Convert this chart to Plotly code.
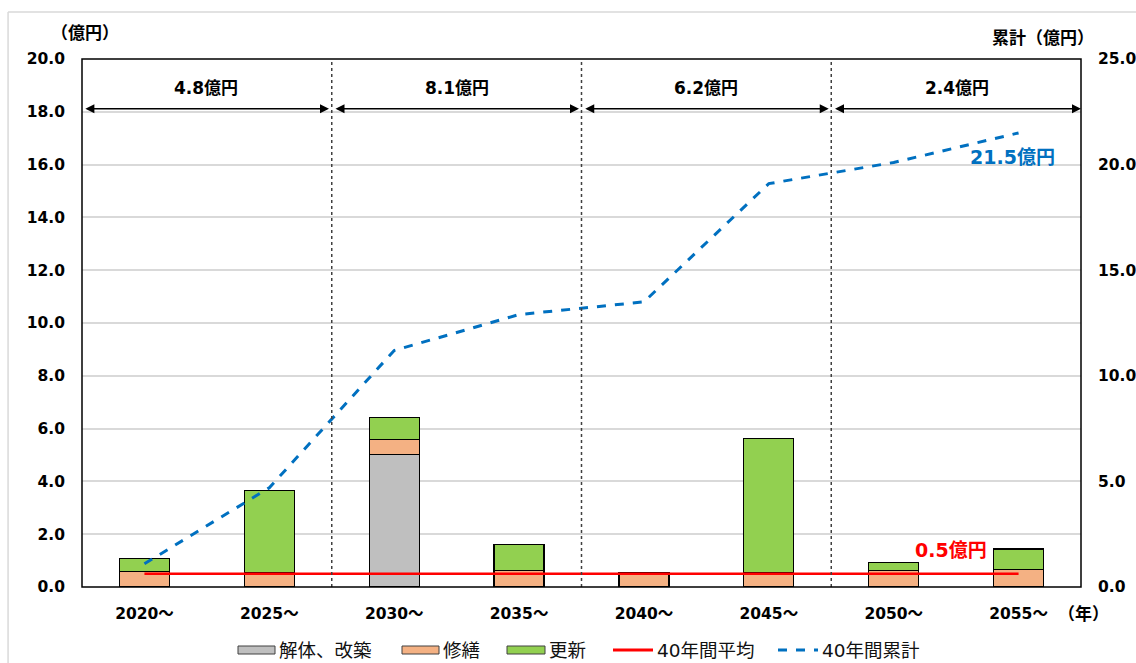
import plotly.graph_objects as go

# 期間（5年刻み）
categories = ["2020～", "2025～", "2030～", "2035～", "2040～", "2045～", "2050～", "2055～"]

# 年代別の費用（億円）
kaitai = [0.0, 0.0, 5.03, 0.0, 0.0, 0.0, 0.0, 0.0]          # 解体、改築
shuzen = [0.58, 0.55, 0.55, 0.63, 0.54, 0.55, 0.62, 0.67]   # 修繕
koshin = [0.51, 3.12, 0.83, 0.99, 0.0, 5.07, 0.30, 0.77]    # 更新

# 40年間累計（億円、右軸）
cumulative = [1.1, 4.7, 11.2, 12.9, 13.5, 19.1, 20.1, 21.5]

# 40年間平均（億円）
average = 0.5

# 10年ごとの区間合計
period_totals = ["4.8億円", "8.1億円", "6.2億円", "2.4億円"]
period_spans = [(-0.485, 1.478), (1.518, 3.48), (3.518, 5.48), (5.518, 7.5)]

FONT = "DejaVu Sans, Noto Sans CJK JP"
black = "#000000"
GRAY, ORANGE, GREEN = "#BFBFBF", "#F4B183", "#92D050"
RED, BLUE = "#FF0000", "#0070C0"

fig = go.Figure()

bar_style = dict(width=0.4, marker_line=dict(color=black, width=1.2))
fig.add_trace(go.Bar(x=categories, y=kaitai, name="解体、改築", marker_color=GRAY, **bar_style))
fig.add_trace(go.Bar(x=categories, y=shuzen, name="修繕", marker_color=ORANGE, **bar_style))
fig.add_trace(go.Bar(x=categories, y=koshin, name="更新", marker_color=GREEN, **bar_style))

fig.add_trace(go.Scatter(x=categories, y=[average] * len(categories), name="40年間平均",
                         mode="lines", line=dict(color=RED, width=2.5)))
fig.add_trace(go.Scatter(x=categories, y=cumulative, name="40年間累計", yaxis="y2",
                         mode="lines", line=dict(color=BLUE, width=3, dash="dash")))

# 10年区切りの点線
for xb in [1.5, 3.5, 5.5]:
    fig.add_shape(type="line", xref="x", yref="y", x0=xb, x1=xb, y0=0, y1=19.9,
                  line=dict(color="#404040", width=1.5, dash="dot"))

# 区間ごとの両矢印と合計額
for (xs, xe), label in zip(period_spans, period_totals):
    fig.add_annotation(x=xe, y=18.12, ax=xs, ay=18.12, xref="x", yref="y",
                       axref="x", ayref="y", text="", showarrow=True,
                       arrowhead=2, arrowside="end+start", arrowsize=1.2,
                       arrowwidth=1.5, arrowcolor=black)
    fig.add_annotation(x=(xs + xe) / 2, y=18.9, xref="x", yref="y", text=label,
                       showarrow=False, font=dict(family=FONT, size=17, color=black, weight="bold"))

fig.add_annotation(x=6.46, y=1.42, xref="x", yref="y", text="0.5億円", showarrow=False,
                   font=dict(family=FONT, size=19, color=RED, weight="bold"))
fig.add_annotation(x=7.31, y=16.3, xref="x", yref="y", xanchor="right", text="21.5億円",
                   showarrow=False, font=dict(family=FONT, size=19, color=BLUE, weight="bold"))

# 軸ラベル
axis_title_font = dict(family=FONT, size=17, color=black, weight="bold")
fig.add_annotation(x=0.039, y=1.049, xref="paper", yref="paper", text="（億円）",
                   showarrow=False, xanchor="right", yanchor="middle", font=axis_title_font)
fig.add_annotation(x=1.015, y=1.04, xref="paper", yref="paper", text="累計（億円）",
                   showarrow=False, xanchor="right", yanchor="middle", font=axis_title_font)
fig.add_annotation(x=0.975, y=-0.051, xref="paper", yref="paper", text="（年）",
                   showarrow=False, xanchor="left", yanchor="middle", font=axis_title_font)

# プロット枠
fig.add_shape(type="rect", xref="paper", yref="paper", x0=0, x1=1, y0=0, y1=1,
              line=dict(color=black, width=1.5), layer="above")
# 外枠
fig.add_shape(type="line", xref="paper", yref="paper", x0=-0.074, x1=1.06, y0=1.089, y1=1.089,
              line=dict(color="#D9D9D9", width=1.5))
fig.add_shape(type="line", xref="paper", yref="paper", x0=-0.074, x1=-0.074, y0=1.089, y1=-0.2,
              line=dict(color="#D9D9D9", width=1.5))

# 凡例（下部に横並び）
PLOT_L, PLOT_W, PLOT_B, PLOT_H = 82, 999, 587, 528


def px_x(v):
    return (v - PLOT_L) / PLOT_W


def px_y(v):
    return (PLOT_B - v) / PLOT_H


legend_y = 650
legend_font = dict(family=FONT, size=18.5, color="#111111")
legend_items = [
    ("box", GRAY, 238, 275, "解体、改築"),
    ("box", ORANGE, 402, 439, "修繕"),
    ("box", GREEN, 507, 545, "更新"),
    ("line", RED, 613, 653, "40年間平均"),
    ("dash", BLUE, 778, 818, "40年間累計"),
]
for kind, color, x0, x1, label in legend_items:
    if kind == "box":
        fig.add_shape(type="rect", xref="paper", yref="paper",
                      x0=px_x(x0), x1=px_x(x1), y0=px_y(legend_y + 4), y1=px_y(legend_y - 4),
                      fillcolor=color, line=dict(color="#404040", width=1))
    else:
        fig.add_shape(type="line", xref="paper", yref="paper",
                      x0=px_x(x0), x1=px_x(x1), y0=px_y(legend_y), y1=px_y(legend_y),
                      line=dict(color=color, width=3, dash="dash" if kind == "dash" else "solid"))
    fig.add_annotation(x=px_x(x1 + 2), y=px_y(legend_y), xref="paper", yref="paper",
                       text=label, showarrow=False, xanchor="left", yanchor="middle",
                       font=legend_font)

tickfont = dict(family=FONT, size=15.5, color=black, weight="bold")
fig.update_layout(
    width=1136, height=663,
    margin=dict(l=82, r=55, t=59, b=76, autoexpand=False),
    paper_bgcolor="white", plot_bgcolor="white",
    barmode="stack", bargap=0.6,
    font=dict(family=FONT, color=black),
    xaxis=dict(type="category", tickfont=tickfont, showgrid=False, ticks="",
               showline=False, range=[-0.5, 7.5], ticklabelstandoff=15),
    yaxis=dict(range=[0, 20], dtick=2, tickformat=".1f", tickfont=tickfont,
               showgrid=True, gridcolor="#D9D9D9", gridwidth=1.5, zeroline=False,
               showline=False, ticks="", ticklabelstandoff=16),
    yaxis2=dict(range=[0, 25], dtick=5, tickformat=".1f", tickfont=tickfont,
                overlaying="y", side="right", showgrid=False, zeroline=False,
                showline=False, ticks="", ticklabelstandoff=16),
    showlegend=False,
)

fig.write_html("out.html")
